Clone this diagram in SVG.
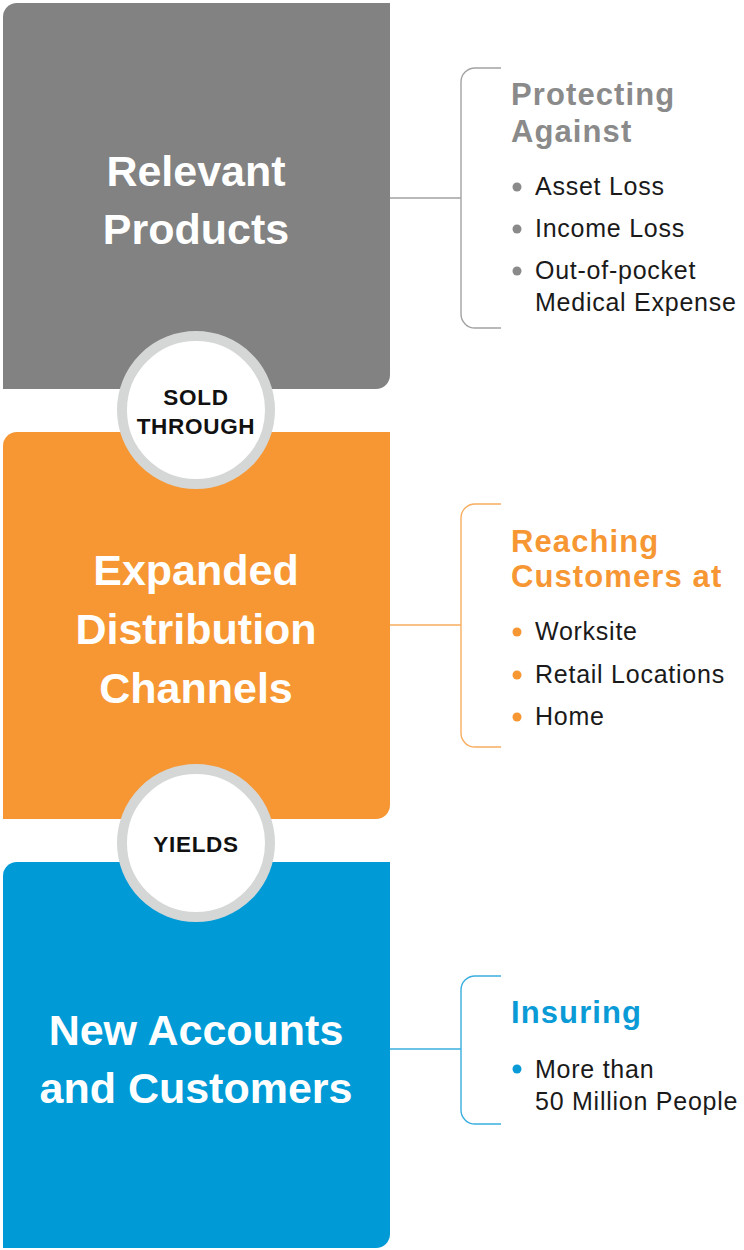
<svg xmlns="http://www.w3.org/2000/svg" width="744" height="1250" viewBox="0 0 744 1250">
  <style>
    .title { font-family: "Liberation Sans", Arial, sans-serif; font-weight: bold; font-size: 43px; fill: #ffffff; text-anchor: middle; }
    .badge { font-family: "Liberation Sans", Arial, sans-serif; font-weight: bold; font-size: 22.5px; fill: #111111; text-anchor: middle; letter-spacing: 0.7px; }
    .head { font-family: "Liberation Sans", Arial, sans-serif; font-weight: bold; font-size: 31px; letter-spacing: 1.1px; }
    .item { font-family: "Liberation Sans", Arial, sans-serif; font-size: 25px; fill: #1a1a1a; letter-spacing: 0.75px; }
    .ring { fill: #ffffff; stroke: #d5d6d6; stroke-width: 10; }
    .brace { fill: none; stroke-width: 1.4; }
  </style>

  <!-- connectors: stems and braces linking each block to its detail list -->
  <g id="connectors">
    <path class="brace" stroke="#a3a3a3" d="M390,198 H461 M501,68 H475 A14,14 0 0 0 461,82 V314 A14,14 0 0 0 475,328 H501"/>
    <path class="brace" stroke="#f8ad5f" d="M390,625 H461 M501,504 H475 A14,14 0 0 0 461,518 V733 A14,14 0 0 0 475,747 H501"/>
    <path class="brace" stroke="#3aaee0" d="M390,1049 H461 M501,976 H475 A14,14 0 0 0 461,990 V1110 A14,14 0 0 0 475,1124 H501"/>
  </g>

  <!-- block 1 -->
  <g id="products">
    <path fill="#818281" d="M3,17 A14,14 0 0 1 17,3 H390 V375 A14,14 0 0 1 376,389 H3 Z"/>
    <text class="title" x="196" y="186">Relevant</text>
    <text class="title" x="196" y="244">Products</text>
  </g>

  <!-- block 2 -->
  <g id="channels">
    <path fill="#f69733" d="M3,446 A14,14 0 0 1 17,432 H390 V805 A14,14 0 0 1 376,819 H3 Z"/>
    <text class="title" x="196" y="585">Expanded</text>
    <text class="title" x="196" y="644">Distribution</text>
    <text class="title" x="196" y="703">Channels</text>
  </g>

  <!-- block 3 -->
  <g id="customers">
    <path fill="#009bd7" d="M3,876 A14,14 0 0 1 17,862 H390 V1234 A14,14 0 0 1 376,1248 H3 Z"/>
    <text class="title" x="196" y="1045">New Accounts</text>
    <text class="title" x="196" y="1103">and Customers</text>
  </g>

  <!-- link badges -->
  <g id="sold-through">
    <circle class="ring" cx="196" cy="410" r="74"/>
    <text class="badge" x="196" y="405">SOLD</text>
    <text class="badge" x="196" y="434">THROUGH</text>
  </g>
  <g id="yields">
    <circle class="ring" cx="196" cy="843" r="74"/>
    <text class="badge" x="196" y="852">YIELDS</text>
  </g>

  <!-- detail lists -->
  <g id="protecting-against">
    <text class="head" fill="#8a8a8a" x="511" y="105">Protecting</text>
    <text class="head" fill="#8a8a8a" x="511" y="142">Against</text>
    <g fill="#8a8a8a">
      <circle cx="517" cy="187" r="4.5"/>
      <circle cx="517" cy="229" r="4.5"/>
      <circle cx="517" cy="271" r="4.5"/>
    </g>
    <text class="item" x="535" y="195">Asset Loss</text>
    <text class="item" x="535" y="237">Income Loss</text>
    <text class="item" x="535" y="279">Out-of-pocket</text>
    <text class="item" x="535" y="311">Medical Expense</text>
  </g>

  <g id="reaching-customers">
    <text class="head" fill="#f69733" x="511" y="552">Reaching</text>
    <text class="head" fill="#f69733" x="511" y="587">Customers at</text>
    <g fill="#f69733">
      <circle cx="517" cy="632" r="4.5"/>
      <circle cx="517" cy="675" r="4.5"/>
      <circle cx="517" cy="717" r="4.5"/>
    </g>
    <text class="item" x="535" y="640">Worksite</text>
    <text class="item" x="535" y="683">Retail Locations</text>
    <text class="item" x="535" y="725">Home</text>
  </g>

  <g id="insuring">
    <text class="head" fill="#0a9bd7" x="511" y="1023">Insuring</text>
    <circle fill="#0a9bd7" cx="517" cy="1069" r="4.5"/>
    <text class="item" x="535" y="1078">More than</text>
    <text class="item" x="535" y="1110">50 Million People</text>
  </g>
</svg>
